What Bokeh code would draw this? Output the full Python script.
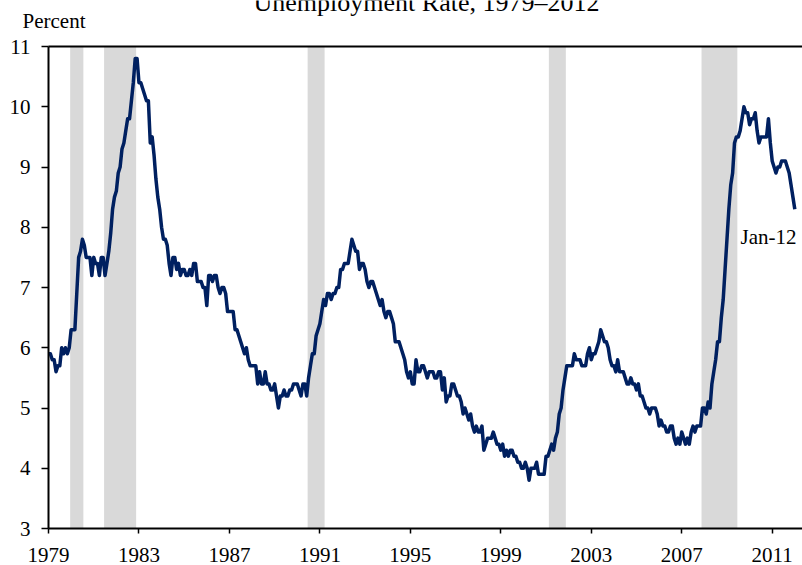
from bokeh.plotting import figure
from bokeh.models import Label, FixedTicker, Range1d
from bokeh.embed import file_html
from bokeh.resources import INLINE

FONT = "Liberation Serif"

# Monthly unemployment rate (percent), Jan..Dec of each year
u1979 = [5.9, 5.9, 5.8, 5.8, 5.6, 5.7, 5.7, 6.0, 5.9, 6.0, 5.9, 6.0]
u1980 = [6.3, 6.3, 6.3, 6.9, 7.5, 7.6, 7.8, 7.7, 7.5, 7.5, 7.5, 7.2]
u1981 = [7.5, 7.4, 7.4, 7.2, 7.5, 7.5, 7.2, 7.4, 7.6, 7.9, 8.3, 8.5]
u1982 = [8.6, 8.9, 9.0, 9.3, 9.4, 9.6, 9.8, 9.8, 10.1, 10.4, 10.8, 10.8]
u1983 = [10.4, 10.4, 10.3, 10.2, 10.1, 10.1, 9.4, 9.5, 9.2, 8.8, 8.5, 8.3]
u1984 = [8.0, 7.8, 7.8, 7.7, 7.4, 7.2, 7.5, 7.5, 7.3, 7.4, 7.2, 7.3]
u1985 = [7.3, 7.2, 7.2, 7.3, 7.2, 7.4, 7.4, 7.1, 7.1, 7.1, 7.0, 7.0]
u1986 = [6.7, 7.2, 7.2, 7.1, 7.2, 7.2, 7.0, 6.9, 7.0, 7.0, 6.9, 6.6]
u1987 = [6.6, 6.6, 6.6, 6.3, 6.3, 6.2, 6.1, 6.0, 5.9, 6.0, 5.8, 5.7]
u1988 = [5.7, 5.7, 5.7, 5.4, 5.6, 5.4, 5.4, 5.6, 5.4, 5.4, 5.3, 5.3]
u1989 = [5.4, 5.2, 5.0, 5.2, 5.2, 5.3, 5.2, 5.2, 5.3, 5.3, 5.4, 5.4]
u1990 = [5.4, 5.3, 5.2, 5.4, 5.4, 5.2, 5.5, 5.7, 5.9, 5.9, 6.2, 6.3]
u1991 = [6.4, 6.6, 6.8, 6.7, 6.9, 6.9, 6.8, 6.9, 6.9, 7.0, 7.0, 7.3]
u1992 = [7.3, 7.4, 7.4, 7.4, 7.6, 7.8, 7.7, 7.6, 7.6, 7.3, 7.4, 7.4]
u1993 = [7.3, 7.1, 7.0, 7.1, 7.1, 7.0, 6.9, 6.8, 6.7, 6.8, 6.6, 6.5]
u1994 = [6.6, 6.6, 6.5, 6.4, 6.1, 6.1, 6.1, 6.0, 5.9, 5.8, 5.6, 5.5]
u1995 = [5.6, 5.4, 5.4, 5.8, 5.6, 5.6, 5.7, 5.7, 5.6, 5.5, 5.6, 5.6]
u1996 = [5.6, 5.5, 5.5, 5.6, 5.6, 5.3, 5.5, 5.1, 5.2, 5.2, 5.4, 5.4]
u1997 = [5.3, 5.2, 5.2, 5.1, 4.9, 5.0, 4.9, 4.8, 4.9, 4.7, 4.6, 4.7]
u1998 = [4.6, 4.6, 4.7, 4.3, 4.4, 4.5, 4.5, 4.5, 4.6, 4.5, 4.4, 4.4]
u1999 = [4.3, 4.4, 4.2, 4.3, 4.2, 4.3, 4.3, 4.2, 4.2, 4.1, 4.1, 4.0]
u2000 = [4.0, 4.1, 4.0, 3.8, 4.0, 4.0, 4.0, 4.1, 3.9, 3.9, 3.9, 3.9]
u2001 = [4.2, 4.2, 4.3, 4.4, 4.3, 4.5, 4.6, 4.9, 5.0, 5.3, 5.5, 5.7]
u2002 = [5.7, 5.7, 5.7, 5.9, 5.8, 5.8, 5.8, 5.7, 5.7, 5.7, 5.9, 6.0]
u2003 = [5.8, 5.9, 5.9, 6.0, 6.1, 6.3, 6.2, 6.1, 6.1, 6.0, 5.8, 5.7]
u2004 = [5.7, 5.6, 5.8, 5.6, 5.6, 5.6, 5.5, 5.4, 5.4, 5.5, 5.4, 5.4]
u2005 = [5.3, 5.4, 5.2, 5.2, 5.1, 5.0, 5.0, 4.9, 5.0, 5.0, 5.0, 4.9]
u2006 = [4.7, 4.8, 4.7, 4.7, 4.6, 4.6, 4.7, 4.7, 4.5, 4.4, 4.5, 4.4]
u2007 = [4.6, 4.5, 4.4, 4.5, 4.4, 4.6, 4.7, 4.6, 4.7, 4.7, 4.7, 5.0]
u2008 = [5.0, 4.9, 5.1, 5.0, 5.4, 5.6, 5.8, 6.1, 6.1, 6.5, 6.8, 7.3]
u2009 = [7.8, 8.3, 8.7, 8.9, 9.4, 9.5, 9.5, 9.6, 9.8, 10.0, 9.9, 9.9]
u2010 = [9.7, 9.8, 9.8, 9.9, 9.6, 9.4, 9.5, 9.5, 9.5, 9.5, 9.8, 9.4]
u2011 = [9.1, 9.0, 8.9, 9.0, 9.0, 9.1, 9.1, 9.1, 9.0, 8.9, 8.7, 8.5]
u2012 = [8.3]

yearly = [u1979, u1980, u1981, u1982, u1983, u1984, u1985, u1986, u1987, u1988,
          u1989, u1990, u1991, u1992, u1993, u1994, u1995, u1996, u1997, u1998,
          u1999, u2000, u2001, u2002, u2003, u2004, u2005, u2006, u2007, u2008,
          u2009, u2010, u2011, u2012]
first_year = 1979

# NBER recessions (peak month, trough month)
rec_peak = ["1980-01", "1981-07", "1990-07", "2001-03", "2007-12"]
rec_trough = ["1980-07", "1982-11", "1991-03", "2001-11", "2009-06"]

x_ticks = [1979, 1983, 1987, 1991, 1995, 1999, 2003, 2007, 2011]
y_ticks = [3, 4, 5, 6, 7, 8, 9, 10, 11]

title_text = "Unemployment Rate, 1979\u20132012"
y_unit_text = "Percent"
last_text = "Jan-12"


def dec(ym):
    y, m = ym.split("-")
    return int(y) + (int(m) - 1) / 12


xs, ys = [], []
for i, vals in enumerate(yearly):
    for m, v in enumerate(vals):
        xs.append(first_year + i + m / 12)
        ys.append(v)

rec_left = [dec(a) - 1 / 24 for a in rec_peak]
rec_right = [dec(b) + 1 / 24 for b in rec_trough]

# pixel layout of the plotting box inside the 802 x 565 canvas
W, H = 802, 565
BOX_L, BOX_T, BOX_B = 48, 46, 528
ax_x0, ax_y0, ax_y1 = 1979.0, 3.0, 11.0
ppy = (2011 - 1979) / (771.7 - 48)          # years per pixel
ppu = (ax_y1 - ax_y0) / (BOX_B - BOX_T)     # units per pixel

x_start = ax_x0 - BOX_L * ppy
x_end = ax_x0 + (W - BOX_L) * ppy
y_end = ax_y1 + BOX_T * ppu
y_start = ax_y0 - (H - BOX_B) * ppu

p = figure(width=W, height=H, output_backend="svg", toolbar_location=None,
           x_range=Range1d(x_start, x_end), y_range=Range1d(y_start, y_end),
           min_border=0)
p.outline_line_color = None
p.background_fill_color = "white"
p.border_fill_color = "white"
p.xgrid.visible = False
p.ygrid.visible = False

p.quad(left=rec_left, right=rec_right, bottom=ax_y0, top=ax_y1,
       fill_color="#d9d9d9", line_color=None)

p.line(xs, ys, line_color="#002060", line_width=3.5, line_join="round")

# top frame line
p.segment(x0=[ax_x0], y0=[ax_y1], x1=[x_end], y1=[ax_y1],
          line_color="black", line_width=2)

p.xaxis.fixed_location = ax_y0
p.yaxis.fixed_location = ax_x0
p.xaxis.bounds = (ax_x0, x_end)
p.yaxis.bounds = (ax_y0, ax_y1)

for ax in (p.xaxis[0], p.yaxis[0]):
    ax.axis_line_color = "black"
    ax.axis_line_width = 2
    ax.major_tick_line_color = "black"
    ax.major_tick_line_width = 1.5
    ax.major_tick_in = 0
    ax.minor_tick_line_color = None
    ax.major_label_text_font = FONT
    ax.major_label_text_font_size = "21px"
    ax.major_label_text_color = "black"

p.xaxis.ticker = FixedTicker(ticks=x_ticks)
p.yaxis.ticker = FixedTicker(ticks=y_ticks)
p.xaxis.major_tick_out = 5
p.xaxis.major_label_standoff = 14
p.yaxis.major_tick_out = 7
p.yaxis.major_label_standoff = 11

# label anchor points (pixel positions of the text baselines)
p.add_layout(Label(x=ax_x0 + (426 - BOX_L) * ppy, y=ax_y1 + (BOX_T - 1.5) * ppu,
                   text=title_text, text_align="center", text_baseline="alphabetic",
                   text_font=FONT, text_font_size="26px", text_color="black"))
p.add_layout(Label(x=ax_x0 + (22 - BOX_L) * ppy, y=ax_y1 + (BOX_T - 20.5) * ppu,
                   text=y_unit_text, text_align="left", text_baseline="alphabetic",
                   text_font=FONT, text_font_size="21px", text_color="black"))
p.add_layout(Label(x=ax_x0 + (740 - BOX_L) * ppy, y=ax_y1 - (236.5 - BOX_T) * ppu,
                   text=last_text, text_align="left", text_baseline="alphabetic",
                   text_font=FONT, text_font_size="21px", text_color="black"))

open("out.html", "w").write(file_html(p, INLINE))
